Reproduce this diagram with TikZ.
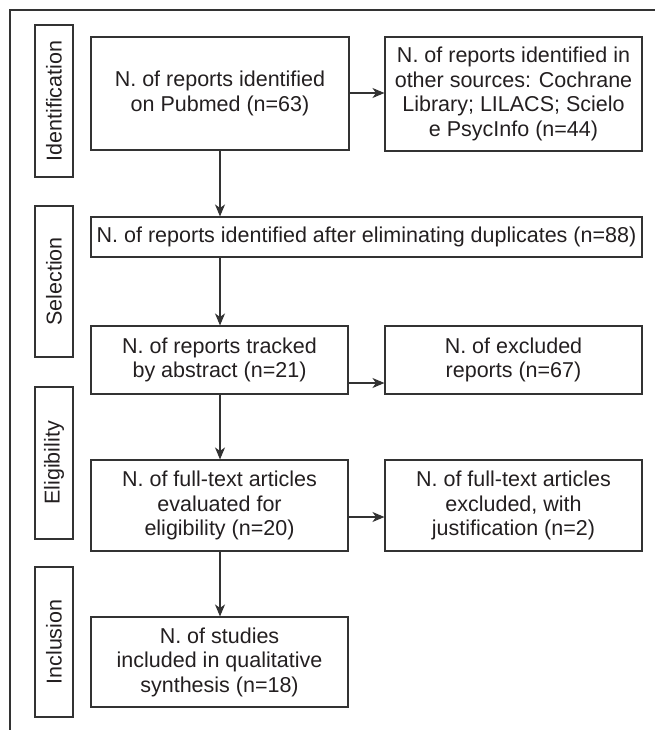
\documentclass[tikz,border=0pt]{standalone}
\usepackage{fontspec}
\setmainfont{Liberation Sans}
\usetikzlibrary{arrows.meta}
\definecolor{ink}{HTML}{231F20}
\definecolor{edge}{HTML}{333333}
\tikzset{
  box/.style={draw=edge, line width=1.1pt, rectangle, align=center, inner sep=0pt,
    text=ink, font=\fontsize{21.5}{24.5}\selectfont},
  phase/.style={draw=edge, line width=1.1pt, rectangle, inner sep=0pt, text=ink,
    rotate=90, minimum height=38pt, font=\fontsize{21.5}{24.5}\selectfont},
  arr/.style={draw=edge, line width=1.1pt, -{Stealth[length=12pt,width=10pt,inset=3.5pt]}},
  frame/.style={draw=edge, line width=1.2pt}
}
\begin{document}
\begin{tikzpicture}[x=1pt,y=-1pt]
\useasboundingbox (0,0) rectangle (655,730);
\coordinate (fb) at (10,731);
\coordinate (fc) at (10,10);
\coordinate (fr) at (656,10);
\draw[frame] (fb) -- (fc) -- (fr);
% phase labels
\node[phase, minimum width=152pt] (pid) at (54,101) {Identification};
\node[phase, minimum width=151pt] (psel) at (54,281.5) {Selection};
\node[phase, minimum width=152pt] (pel) at (54,463) {Eligibility};
\node[phase, minimum width=150pt] (pinc) at (54,642) {Inclusion};
% boxes
\node[box, minimum width=258pt, minimum height=113pt] (b1) at (220,93.5)
  {N. of reports identified\\on Pubmed (n=63)};
\node[box, minimum width=257pt, minimum height=114pt] (b2) at (513.5,94)
  {N. of reports identified in\\other sources: Cochrane\\Library; LILACS; Scielo\\e PsycInfo (n=44)};
\node[box, minimum width=551pt, minimum height=40pt] (b3) at (366.5,237)
  {N. of reports identified after eliminating duplicates (n=88)};
\node[box, minimum width=257pt, minimum height=68pt] (b4) at (219.5,360)
  {N. of reports tracked\\by abstract (n=21)};
\node[box, minimum width=257pt, minimum height=68pt] (b5) at (513.5,360)
  {N. of excluded\\reports (n=67)};
\node[box, minimum width=257pt, minimum height=91pt] (b6) at (219.5,505.5)
  {N. of full-text articles\\evaluated for\\eligibility (n=20)};
\node[box, minimum width=257pt, minimum height=91pt] (b7) at (513.5,505.5)
  {N. of full-text articles\\excluded, with\\justification (n=2)};
\node[box, minimum width=257pt, minimum height=90pt] (b8) at (219.5,662)
  {N. of studies\\included in qualitative\\synthesis (n=18)};
% arrow levels
\coordinate (h1) at (0,93);
\coordinate (h2) at (0,383);
\coordinate (h3) at (0,517);
\coordinate (vx) at (220,0);
% connectors
\draw[arr] (b1.east |- h1) -- (b2.west |- h1);
\draw[arr] (b4.east |- h2) -- (b5.west |- h2);
\draw[arr] (b6.east |- h3) -- (b7.west |- h3);
\draw[arr] (vx |- b1.south) -- (vx |- b3.north);
\draw[arr] (vx |- b3.south) -- (vx |- b4.north);
\draw[arr] (vx |- b4.south) -- (vx |- b6.north);
\draw[arr] (vx |- b6.south) -- (vx |- b8.north);
\end{tikzpicture}
\end{document}
